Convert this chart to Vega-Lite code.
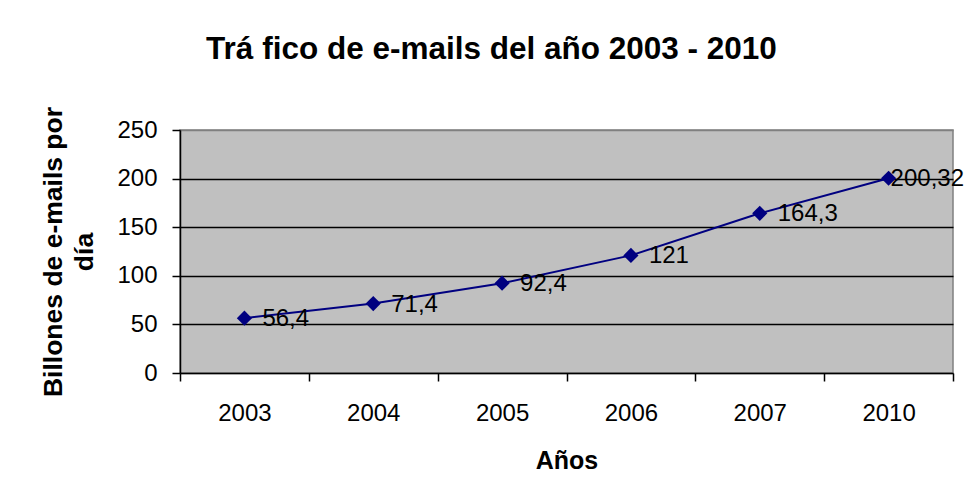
{
  "$schema": "https://vega.github.io/schema/vega-lite/v6.json",
  "autosize": {"type": "none"},
  "width": 773,
  "height": 243,
  "padding": {"left": 180, "top": 130, "right": 17, "bottom": 121},
  "background": "white",
  "title": {
    "text": "Trá fico de e-mails del año 2003 - 2010",
    "font": "Liberation Sans",
    "fontSize": 31.5,
    "fontWeight": "bold",
    "color": "black",
    "anchor": "middle",
    "frame": "group",
    "baseline": "alphabetic",
    "dx": -75,
    "offset": 16
  },
  "config": {
    "view": {"fill": "#C0C0C0", "stroke": "#808080", "strokeWidth": 1.5},
    "font": "Liberation Sans",
    "axis": {
      "labelFont": "Liberation Sans",
      "titleFont": "Liberation Sans",
      "labelColor": "black",
      "titleColor": "black",
      "domainColor": "black",
      "domainWidth": 1.5,
      "tickColor": "black",
      "tickWidth": 1.5
    }
  },
  "data": {
    "values": [
      {"year": "2003", "emails": 56.4, "label": "56,4"},
      {"year": "2004", "emails": 71.4, "label": "71,4"},
      {"year": "2005", "emails": 92.4, "label": "92,4"},
      {"year": "2006", "emails": 121, "label": "121"},
      {"year": "2007", "emails": 164.3, "label": "164,3"},
      {"year": "2010", "emails": 200.32, "label": "200,32"}
    ]
  },
  "encoding": {
    "x": {
      "field": "year",
      "type": "nominal",
      "sort": null,
      "scale": {"type": "band", "paddingInner": 0, "paddingOuter": 0},
      "axis": {
        "title": "Años",
        "titleFontSize": 25,
        "titleFontWeight": "bold",
        "titleBaseline": "alphabetic",
        "titleY": 95,
        "labelAngle": 0,
        "labelFontSize": 24,
        "labelPadding": 20,
        "labelBaseline": "top",
        "tickBand": "extent",
        "tickSize": 8,
        "grid": false
      }
    },
    "y": {
      "field": "emails",
      "type": "quantitative",
      "scale": {"domain": [0, 250], "nice": false},
      "axis": {
        "title": ["Billones de e-mails por", "día"],
        "titleFontSize": 26.5,
        "titleFontWeight": "bold",
        "titleAngle": -90,
        "titleAlign": "center",
        "titleBaseline": "alphabetic",
        "titleLineHeight": 31,
        "titleX": -119,
        "titleY": 121.5,
        "values": [0, 50, 100, 150, 200, 250],
        "labelFontSize": 24,
        "labelPadding": 15,
        "tickSize": 8,
        "grid": true,
        "gridColor": {"condition": {"test": "datum.value === 250 || datum.value === 0", "value": "#808080"}, "value": "black"},
        "gridWidth": 1.3
      }
    }
  },
  "layer": [
    {"mark": {"type": "line", "color": "#000080", "strokeWidth": 2}},
    {"mark": {"type": "point", "shape": "diamond", "filled": true, "color": "#000080", "opacity": 1, "size": 230}},
    {
      "transform": [{"filter": "datum.year !== '2010'"}],
      "mark": {"type": "text", "align": "left", "baseline": "middle", "dx": 18, "dy": 1, "fontSize": 24, "color": "black", "font": "Liberation Sans"},
      "encoding": {"text": {"field": "label"}}
    },
    {
      "transform": [{"filter": "datum.year === '2010'"}],
      "mark": {"type": "text", "align": "left", "baseline": "middle", "dx": 2, "dy": 1, "fontSize": 24, "color": "black", "font": "Liberation Sans"},
      "encoding": {"text": {"field": "label"}}
    }
  ]
}
